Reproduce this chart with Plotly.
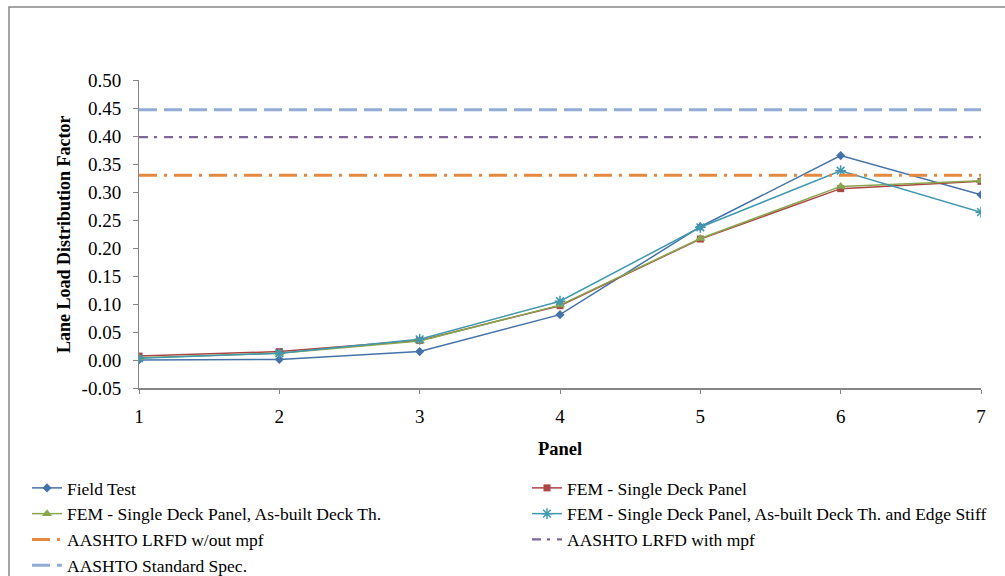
import plotly.graph_objects as go

panels = [1, 2, 3, 4, 5, 6, 7]
field_test = [0.000, 0.001, 0.015, 0.081, 0.238, 0.365, 0.295]
fem_single = [0.007, 0.015, 0.035, 0.097, 0.216, 0.306, 0.319]
fem_asbuilt = [0.004, 0.012, 0.034, 0.098, 0.217, 0.310, 0.320]
fem_edge = [0.003, 0.012, 0.037, 0.105, 0.237, 0.338, 0.264]
lrfd_without_mpf = 0.330
lrfd_with_mpf = 0.398
standard_spec = 0.447
y_ticks = [-0.05, 0.00, 0.05, 0.10, 0.15, 0.20, 0.25, 0.30, 0.35, 0.40, 0.45, 0.50]
y_ticklabels = ["-0.05", "0.00", "0.05", "0.10", "0.15", "0.20", "0.25", "0.30",
                "0.35", "0.40", "0.45", "0.50"]

FONT = "Liberation Serif"
W, H = 1005, 576
L, R, T, B = 139, 24, 80, 188
PW, PH = W - L - R, H - T - B

fig = go.Figure()

fig.add_trace(go.Scatter(x=panels, y=field_test, name="Field Test", mode="lines+markers",
                         legend="legend",
                         line=dict(color="#4572A7", width=1.5),
                         marker=dict(symbol="diamond", size=7, color="#4572A7")))
fig.add_trace(go.Scatter(x=panels, y=fem_single, name="FEM - Single Deck Panel", mode="lines+markers",
                         legend="legend2",
                         line=dict(color="#AA4643", width=1.5),
                         marker=dict(symbol="square", size=7, color="#AA4643")))
fig.add_trace(go.Scatter(x=panels, y=fem_asbuilt, name="FEM - Single Deck Panel, As-built Deck Th.",
                         mode="lines+markers", legend="legend",
                         line=dict(color="#89A54E", width=1.5),
                         marker=dict(symbol="triangle-up", size=9, color="#89A54E")))
fig.add_trace(go.Scatter(x=panels, y=fem_edge,
                         name="FEM - Single Deck Panel, As-built Deck Th. and Edge Stiff",
                         mode="lines+markers", legend="legend2",
                         line=dict(color="#4198AF", width=1.5),
                         marker=dict(symbol="asterisk-open", size=9, color="#4198AF",
                                     line=dict(color="#4198AF", width=1.5))))
fig.add_trace(go.Scatter(x=[panels[0], panels[-1]], y=[lrfd_without_mpf] * 2,
                         name="AASHTO LRFD w/out mpf", mode="lines", legend="legend",
                         line=dict(color="#E4893F", width=3, dash="18px,7px,3px,7px")))
fig.add_trace(go.Scatter(x=[panels[0], panels[-1]], y=[lrfd_with_mpf] * 2,
                         name="AASHTO LRFD with mpf", mode="lines", legend="legend2",
                         line=dict(color="#7F6699", width=2.2, dash="9px,6px,3px,7px")))
fig.add_trace(go.Scatter(x=[panels[0], panels[-1]], y=[standard_spec] * 2,
                         name="AASHTO Standard Spec.", mode="lines", legend="legend",
                         line=dict(color="#93ACD5", width=3, dash="18px,7px")))

legend_common = dict(orientation="v", xref="container", yref="container",
                     xanchor="left", yanchor="top", traceorder="normal",
                     font=dict(family=FONT, size=17.5, color="black"),
                     bgcolor="rgba(0,0,0,0)", tracegroupgap=0)

fig.update_layout(
    width=W, height=H,
    margin=dict(l=L, r=R, t=T, b=B, autoexpand=False),
    paper_bgcolor="white", plot_bgcolor="white",
    font=dict(family=FONT, size=18, color="black"),
    showlegend=True,
    legend=dict(x=27 / W, y=(H - 470) / H, **legend_common),
    legend2=dict(x=527 / W, y=(H - 470) / H, **legend_common),
    xaxis=dict(range=[1, 7], tickmode="array", tickvals=panels, ticktext=[str(p) for p in panels],
               showgrid=False, zeroline=False, showline=True, linecolor="#868686", linewidth=2,
               ticks="outside", ticklen=4, tickcolor="#868686", tickwidth=1,
               ticklabelstandoff=6,
               title=dict(text="<b>Panel</b>", standoff=16, font=dict(family=FONT, size=18.5)),
               tickfont=dict(family=FONT, size=19)),
    yaxis=dict(range=[-0.05, 0.50], tickmode="array", tickvals=y_ticks, ticktext=y_ticklabels,
               showgrid=False, zeroline=False, showline=True, linecolor="#868686", linewidth=1,
               ticks="outside", ticklen=5, tickcolor="#868686", tickwidth=1,
               ticklabelstandoff=8,
               tickfont=dict(family=FONT, size=19)),
    annotations=[dict(text="<b>Lane Load Distribution Factor</b>", textangle=-90,
                      xref="paper", yref="paper", x=(64 - L) / PW, y=0.5,
                      xanchor="center", yanchor="middle", showarrow=False,
                      font=dict(family=FONT, size=18, color="black"))],
    shapes=[dict(type="rect", xref="paper", yref="paper",
                 x0=(9 - L) / PW, x1=(W + 10 - L) / PW, y0=-(H + 10 - T - PH) / PH,
                 y1=(T + PH - 7) / PH,
                 line=dict(color="#868686", width=1.5), fillcolor="rgba(0,0,0,0)", layer="below")],
)

fig.write_html("out.html", config={"displayModeBar": False},
               post_script="document.body.style.margin='0';")
